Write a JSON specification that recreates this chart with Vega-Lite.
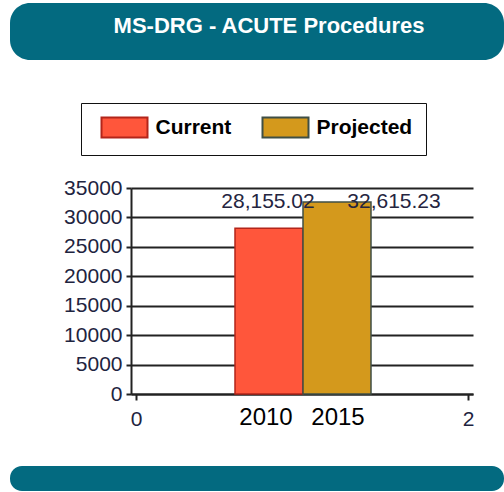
{
  "$schema": "https://vega.github.io/schema/vega-lite/v6.json",
  "padding": {"left": 10, "top": 3, "right": 0, "bottom": 0},
  "background": "white",
  "columns": 1,
  "align": "none",
  "bounds": "full",
  "spacing": 0,
  "config": {"view": {"stroke": null}, "font": "Liberation Sans"},
  "datasets": {
    "procedures": [
      {"year": "2010", "series": "Current", "value": 28155.02, "pos": 1},
      {"year": "2015", "series": "Projected", "value": 32615.23, "pos": 1}
    ]
  },
  "concat": [
    {
      "width": 494, "height": 57, "view": {"fill": "#036a80", "cornerRadius": 20},
      "data": {"values": [{"title": "MS-DRG - ACUTE Procedures"}]},
      "mark": {"type": "text", "color": "white", "fontSize": 22, "fontWeight": "bold", "dx": 12, "dy": -6, "baseline": "middle"},
      "encoding": {"text": {"field": "title", "type": "nominal"}}
    },
    {"width": 494, "height": 117, "data": {"values": []}, "mark": "text"},
    {
      "spacing": 0,
      "bounds": "full",
      "hconcat": [
        {"width": 1, "height": 206, "data": {"values": []}, "mark": "text"},
        {
          "width": 342,
          "height": 206,
          "data": {"name": "procedures"},
          "encoding": {
            "x": {
              "field": "pos", "type": "quantitative",
              "scale": {"domain": [0, 2], "nice": false, "zero": false},
              "axis": {
                "title": null, "values": [0, 1, 2], "grid": false, "format": "d",
                "labelExpr": "datum.value == 1 ? '' : datum.label",
                "tickSize": 6, "tickWidth": 2, "tickColor": "#222", "domainColor": "#222", "domainWidth": 2,
                "labelFontSize": 21, "labelColor": "#1e2440", "labelPadding": 8, "labelFlush": false, "labelOverlap": false
              }
            },
            "y": {
              "field": "value", "type": "quantitative",
              "scale": {"domain": [0, 35000], "nice": false},
              "axis": {
                "title": null, "values": [0, 5000, 10000, 15000, 20000, 25000, 30000, 35000], "format": "d",
                "grid": true, "gridColor": "#222", "gridWidth": 2, "labelOverlap": false, "minExtent": 120,
                "tickSize": 5, "tickWidth": 2, "tickColor": "#222", "domainColor": "#222", "domainWidth": 2,
                "labelFontSize": 21, "labelColor": "#1e2440", "labelPadding": 4
              }
            },
            "fill": {
              "field": "series", "type": "nominal",
              "scale": {"domain": ["Current", "Projected"], "range": ["#ff563b", "#d4991c"]},
              "legend": {
                "orient": "none", "legendX": 71, "legendY": 100, "direction": "horizontal", "title": null,
                "strokeColor": "#111", "padding": 13.5, "fillColor": "white",
                "symbolType": "M-2.3,-1H2.3V1H-2.3Z", "symbolSize": 400, "symbolStrokeWidth": 2, "symbolOpacity": 1,
                "symbolOffset": 19, "labelOffset": 20, "columnPadding": 24,
                "labelFontSize": 21, "labelFontWeight": "bold", "labelColor": "black",
                "labelExpr": "datum.label == 'Projected' ? 'Projected\u00a0\u00a0\u00a0\u00a0' : datum.label"
              }
            },
            "stroke": {
              "field": "series", "type": "nominal",
              "scale": {"domain": ["Current", "Projected"], "range": ["#b3251a", "#3f4f45"]}
            }
          },
          "layer": [
            {
              "transform": [{"filter": "datum.series == 'Current'"}],
              "mark": {"type": "bar", "orient": "vertical", "width": 68, "xOffset": -33, "strokeWidth": 1.5}
            },
            {
              "transform": [{"filter": "datum.series == 'Projected'"}],
              "mark": {"type": "bar", "orient": "vertical", "width": 68, "xOffset": 35, "strokeWidth": 1.5}
            },
            {
              "transform": [{"filter": "datum.series == 'Current'"}],
              "mark": {"type": "text", "fontSize": 21, "dx": -34, "dy": -26, "baseline": "middle"},
              "encoding": {
                "text": {"field": "value", "type": "quantitative", "format": ",.2f"},
                "fill": {"value": "#25253f"}, "stroke": {"value": null}
              }
            },
            {
              "transform": [{"filter": "datum.series == 'Projected'"}],
              "mark": {"type": "text", "fontSize": 21, "dx": 92, "dy": 0, "baseline": "middle"},
              "encoding": {
                "text": {"field": "value", "type": "quantitative", "format": ",.2f"},
                "fill": {"value": "#25253f"}, "stroke": {"value": null}
              }
            },
            {
              "transform": [{"filter": "datum.series == 'Current'"}],
              "mark": {"type": "text", "fontSize": 24, "dx": -36, "dy": 12, "baseline": "top"},
              "encoding": {
                "y": {"datum": 0, "type": "quantitative"},
                "text": {"field": "year", "type": "nominal"},
                "fill": {"value": "black"}, "stroke": {"value": null}
              }
            },
            {
              "transform": [{"filter": "datum.series == 'Projected'"}],
              "mark": {"type": "text", "fontSize": 24, "dx": 36, "dy": 12, "baseline": "top"},
              "encoding": {
                "y": {"datum": 0, "type": "quantitative"},
                "text": {"field": "year", "type": "nominal"},
                "fill": {"value": "black"}, "stroke": {"value": null}
              }
            }
          ]
        }
      ]
    },
    {"width": 494, "height": 36, "data": {"values": []}, "mark": "text"},
    {"width": 494, "height": 25, "view": {"fill": "#036a80", "cornerRadius": 12}, "data": {"values": []}, "mark": "text"}
  ]
}
